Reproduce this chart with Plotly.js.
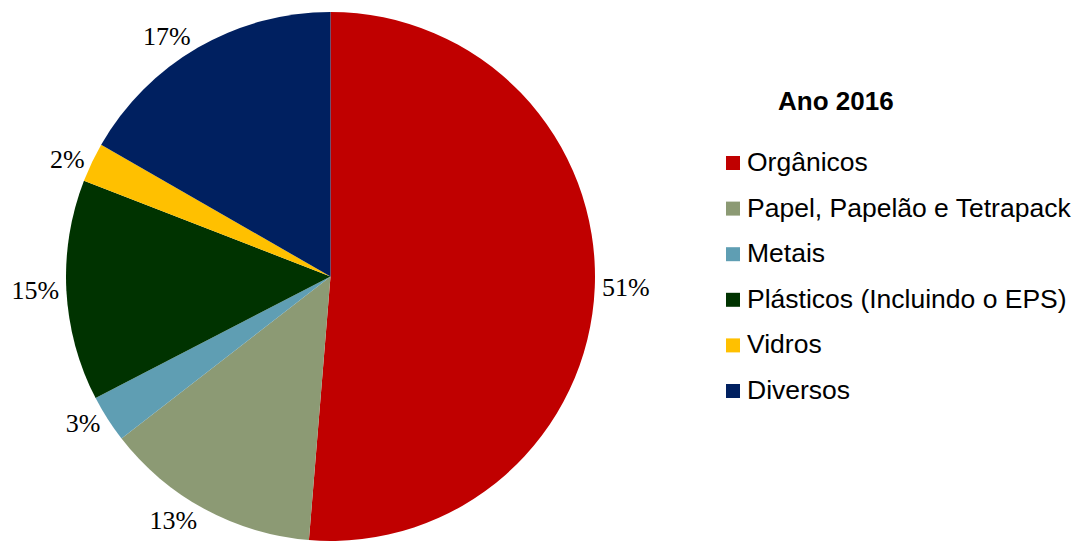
<!DOCTYPE html>
<html>
<head>
<meta charset="utf-8">
<script src="https://cdn.plot.ly/plotly-3.0.1.min.js"></script>
<style>html,body{margin:0;padding:0;background:#fff}#chart{width:1087px;height:556px}</style>
</head>
<body>
<div id="chart"></div>
<script>
const categories = ["Orgânicos", "Papel, Papelão e Tetrapack", "Metais", "Plásticos (Incluindo o EPS)", "Vidros", "Diversos"];
const shares = [51.3, 13.2, 2.9, 13.5, 2.4, 16.7];
const labelTexts = ["51%", "13%", "3%", "15%", "2%", "17%"];
const colors = ["#C00000", "#8C9A74", "#5F9EB3", "#003300", "#FFC000", "#002060"];
const legendTitle = "Ano 2016";

const W = 1087, H = 556;
const M = {l: 0, r: 0, t: 12, b: 15};
const plotH = H - M.t - M.b;
const px2x = px => (px - M.l) / (W - M.l - M.r);
const py2y = py => (H - M.b - py) / plotH;

const trace = {
  type: "pie",
  labels: categories,
  values: shares,
  text: labelTexts,
  textinfo: "text",
  textposition: "outside",
  sort: false,
  direction: "clockwise",
  rotation: 0,
  marker: {colors: colors, line: {width: 0}},
  outsidetextfont: {family: "Liberation Serif, serif", size: 26, color: "#000"},
  domain: {x: [px2x(66), px2x(595)], y: [0, 1]},
  hoverinfo: "label+percent",
  showlegend: false
};

// Legend drawn from the category / colour arrays (spacing matches the reference)
const legendLeft = 726, legendTop = 163, legendStep = 45.6, box = 14;
const shapes = [];
const annotations = [{
  text: "<b>" + legendTitle + "</b>",
  xref: "paper", yref: "paper",
  x: px2x(836), y: py2y(101), xanchor: "center", yanchor: "middle",
  showarrow: false,
  font: {family: "Liberation Sans, Arial, sans-serif", size: 26, color: "#000"}
}];
categories.forEach((c, i) => {
  const cy = legendTop + i * legendStep;
  shapes.push({
    type: "rect", xref: "paper", yref: "paper",
    x0: px2x(legendLeft), x1: px2x(legendLeft + box),
    y0: py2y(cy + box / 2), y1: py2y(cy - box / 2),
    fillcolor: colors[i], line: {width: 0}
  });
  annotations.push({
    text: c, xref: "paper", yref: "paper",
    x: px2x(legendLeft + box + 5), y: py2y(cy - 1),
    xanchor: "left", yanchor: "middle", showarrow: false,
    font: {family: "Liberation Sans, Arial, sans-serif", size: 26.5, color: "#000"}
  });
});

const layout = {
  width: W, height: H,
  margin: M,
  paper_bgcolor: "#fff",
  showlegend: false,
  shapes: shapes,
  annotations: annotations
};

Plotly.newPlot("chart", [trace], layout, {displayModeBar: false, staticPlot: true});
</script>
</body>
</html>
